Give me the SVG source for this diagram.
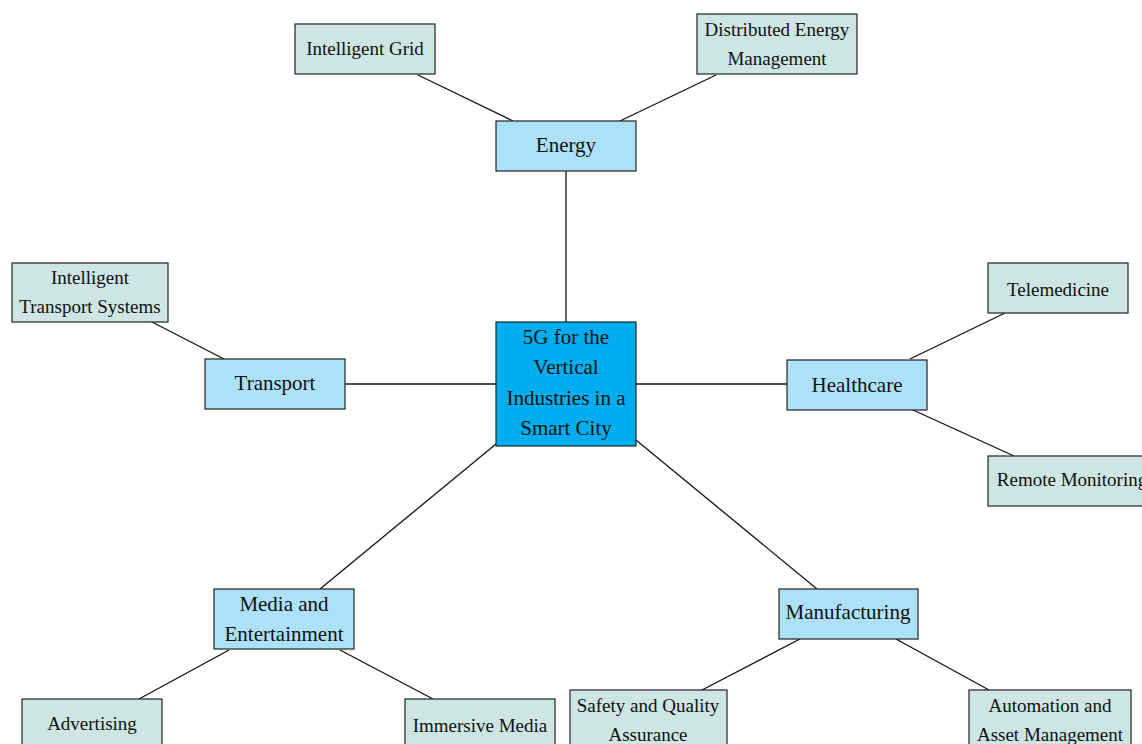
<svg xmlns="http://www.w3.org/2000/svg" width="1142" height="744" viewBox="0 0 1142 744">
<style>
rect{stroke:#222;stroke-width:1.2}
.root{fill:#00AEEF}
.mid{fill:#ADE1F9}
.leaf{fill:#CDE6E4}
text{font-family:"Liberation Serif","Times New Roman",serif;fill:#111;text-anchor:middle;dominant-baseline:central}
.m{font-size:21px}
.l{font-size:19px}
#connectors line{stroke:#111;stroke-width:1.3}
</style>
<rect width="1142" height="744" fill="#fff" style="stroke:none"/>
<g id="connectors">
<line x1="566" y1="171" x2="566" y2="322"/>
<line x1="418" y1="75" x2="513" y2="121"/>
<line x1="716" y1="75" x2="620" y2="121"/>
<line x1="345" y1="384" x2="496" y2="384"/>
<line x1="152" y1="322" x2="224" y2="359"/>
<line x1="636" y1="384" x2="787" y2="384"/>
<line x1="1005" y1="313" x2="910" y2="359"/>
<line x1="913" y1="410" x2="1014" y2="456"/>
<line x1="496" y1="444" x2="320" y2="589"/>
<line x1="636" y1="440" x2="817" y2="589"/>
<line x1="229" y1="650" x2="139" y2="699"/>
<line x1="340" y1="650" x2="433" y2="699"/>
<line x1="800" y1="639" x2="702" y2="690"/>
<line x1="896" y1="639" x2="989" y2="690"/>
</g>
<g id="root"><rect class="root" x="496" y="322" width="140" height="124"/>
<text class="m" x="566" y="337">5G for the</text><text class="m" x="566" y="367">Vertical</text><text class="m" x="566" y="398">Industries in a</text><text class="m" x="566" y="428">Smart City</text></g>
<g id="energy"><rect class="mid" x="496" y="121" width="140" height="50"/><text class="m" x="566" y="145">Energy</text></g>
<g id="intelligent-grid"><rect class="leaf" x="295" y="24" width="140" height="50"/><text class="l" x="365" y="48">Intelligent Grid</text></g>
<g id="distributed-energy"><rect class="leaf" x="697" y="14" width="160" height="60"/><text class="l" x="777" y="29">Distributed Energy</text><text class="l" x="777" y="58">Management</text></g>
<g id="transport"><rect class="mid" x="205" y="359" width="140" height="50"/><text class="m" x="275" y="383">Transport</text></g>
<g id="its"><rect class="leaf" x="12" y="263" width="156" height="59"/><text class="l" x="90" y="277">Intelligent</text><text class="l" x="90" y="306">Transport Systems</text></g>
<g id="healthcare"><rect class="mid" x="787" y="360" width="140" height="50"/><text class="m" x="857" y="385">Healthcare</text></g>
<g id="telemedicine"><rect class="leaf" x="988" y="263" width="140" height="50"/><text class="l" x="1058" y="289">Telemedicine</text></g>
<g id="remote-monitoring"><rect class="leaf" x="988" y="456" width="162" height="50"/><text class="l" x="1072" y="479">Remote Monitoring</text></g>
<g id="media"><rect class="mid" x="214" y="589" width="140" height="60"/><text class="m" x="284" y="604">Media and</text><text class="m" x="284" y="634">Entertainment</text></g>
<g id="advertising"><rect class="leaf" x="22" y="699" width="140" height="60"/><text class="l" x="92" y="723">Advertising</text></g>
<g id="immersive"><rect class="leaf" x="405" y="699" width="150" height="60"/><text class="l" x="480" y="725">Immersive Media</text></g>
<g id="manufacturing"><rect class="mid" x="779" y="589" width="139" height="50"/><text class="m" x="848" y="612">Manufacturing</text></g>
<g id="safety"><rect class="leaf" x="570" y="690" width="157" height="60"/><text class="l" x="648" y="705">Safety and Quality</text><text class="l" x="648" y="734">Assurance</text></g>
<g id="automation"><rect class="leaf" x="969" y="690" width="162" height="60"/><text class="l" x="1050" y="705">Automation and</text><text class="l" x="1050" y="734">Asset Management</text></g>
</svg>
